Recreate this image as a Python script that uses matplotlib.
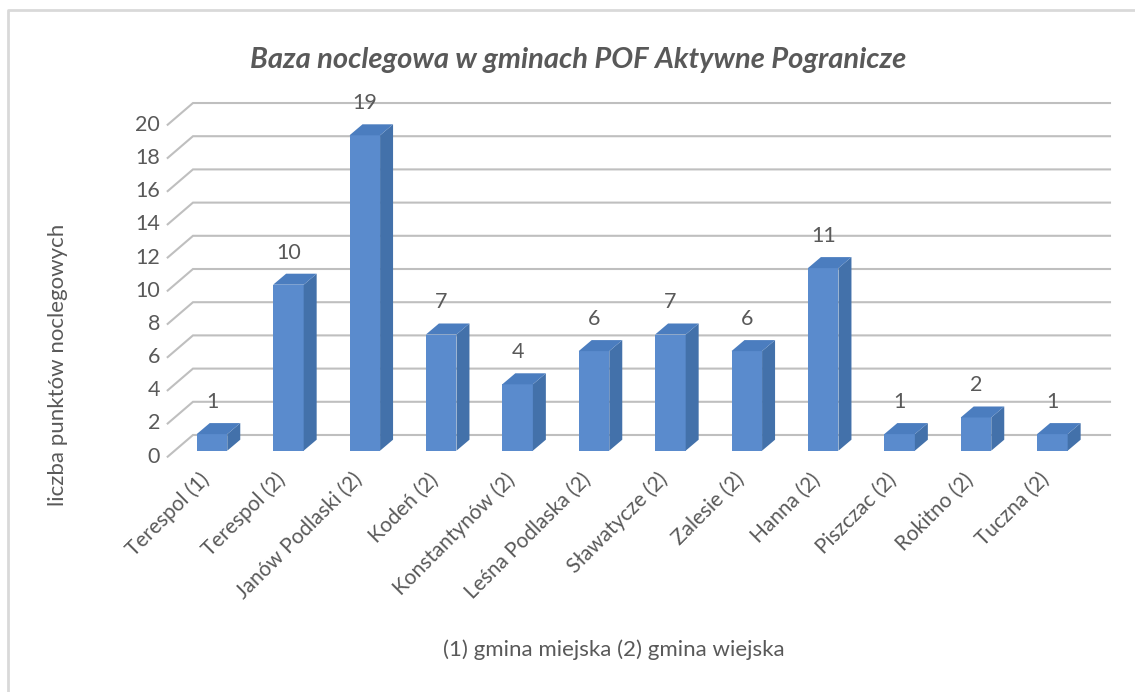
import matplotlib.pyplot as plt
from matplotlib.patches import Polygon
from matplotlib.lines import Line2D

categories = ['Terespol (1)', 'Terespol (2)', 'Janów Podlaski (2)', 'Kodeń (2)',
              'Konstantynów (2)', 'Leśna Podlaska (2)', 'Sławatycze (2)', 'Zalesie (2)',
              'Hanna (2)', 'Piszczac (2)', 'Rokitno (2)', 'Tuczna (2)']
values = [1, 10, 19, 7, 4, 6, 7, 6, 11, 1, 2, 1]
y_ticks = [0, 2, 4, 6, 8, 10, 12, 14, 16, 18, 20]

plt.rcParams['font.family'] = ['Lato', 'DejaVu Sans']
txt = '#595959'

W, H = 1135, 692
fig = plt.figure(figsize=(W / 100, H / 100), dpi=100)
ax = fig.add_axes([150 / W, 1 - 470 / H, 970 / W, 380 / H])
ax.set_xlim(-0.8115, 11.885)
ax.set_ylim(-1.163, 21.73)
ax.axis('off')

# 3d look: offsets in data units
half = 0.2          # half width of bar front
ddx, ddy = 0.17, 0.663   # bar depth
fx, fy = -0.58, -0.361   # front end of gridlines
bx, by = -0.249, 0.946   # back wall start
ex = 11.754              # back wall end

front_c = '#5A8BCD'
side_c = '#4371AA'
top_c = '#4B7DBF'
grid_c = '#BFBFBF'

for g in y_ticks:
    ax.plot([fx, bx, ex], [g + fy, g + by, g + by], color=grid_c, lw=1.5, zorder=1,
            solid_joinstyle='miter')
    ax.text(fx - 0.1, g + fy, str(g), ha='right', va='center', fontsize=15.5, color=txt)

for i, v in enumerate(values):
    x0, x1 = i - half, i + half
    front = Polygon([(x0, 0), (x1, 0), (x1, v), (x0, v)], closed=True,
                    facecolor=front_c, edgecolor='none', zorder=3)
    side = Polygon([(x1, 0), (x1 + ddx, ddy), (x1 + ddx, v + ddy), (x1, v)], closed=True,
                   facecolor=side_c, edgecolor='none', zorder=3)
    top = Polygon([(x0, v), (x1, v), (x1 + ddx, v + ddy), (x0 + ddx, v + ddy)], closed=True,
                  facecolor=top_c, edgecolor='none', zorder=3)
    for p in (front, side, top):
        ax.add_patch(p)
    ax.text(i, v + 1.93, str(v), ha='center', va='center', fontsize=15.5, color=txt)
    ax.text(i - 0.08, -1.55, categories[i], ha='right', va='center', rotation=45,
            rotation_mode='anchor', fontsize=15, color=txt, clip_on=False)

fig.text(578 / W, 1 - 60 / H, 'Baza noclegowa w gminach POF Aktywne Pogranicze',
         ha='center', va='center', fontsize=21, fontweight='bold', fontstyle='italic',
         color=txt)
fig.text(58 / W, 1 - 365 / H, 'liczba punktów noclegowych', ha='center', va='center',
         rotation=90, fontsize=16, color=txt)
fig.text(614 / W, 1 - 650 / H, '(1) gmina miejska (2) gmina wiejska', ha='center',
         va='center', fontsize=16, color=txt)

# chart border (top and left edges visible)
fig.add_artist(Line2D([8 / W, 8 / W, 1], [0, 1 - 10 / H, 1 - 10 / H],
                      transform=fig.transFigure, color='#D9D9D9', lw=2))

fig.savefig('out.png', dpi=100)
